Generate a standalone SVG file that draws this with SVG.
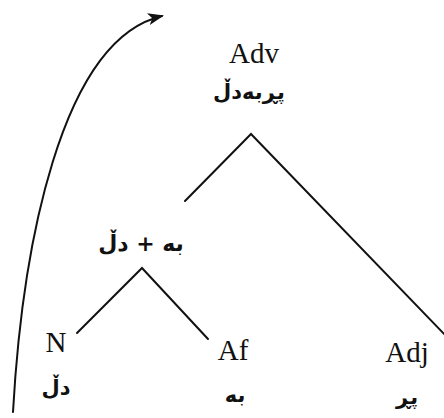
<svg xmlns="http://www.w3.org/2000/svg" width="444" height="418" viewBox="0 0 444 418">
<defs>
<marker id="ah" markerWidth="16" markerHeight="12" refX="14" refY="6" orient="auto" markerUnits="userSpaceOnUse">
<path d="M0,0 L16,6 L0,12 L4,6 Z" fill="#111"/>
</marker>
<style>
.lat{font-family:"Liberation Serif","Times New Roman",serif;font-size:29px;fill:#111;text-anchor:middle}
.ar{font-family:"DejaVu Sans","Noto Sans",sans-serif;font-weight:bold;font-size:21px;fill:#111;text-anchor:middle}
.ln{stroke:#111;stroke-width:2;fill:none;stroke-linecap:round}
</style>
</defs>
<rect width="444" height="418" fill="#fff"/>
<g id="connectors">
<path class="ln" d="M185,201 L251,134 L446,336"/>
<path class="ln" d="M77,333 L142,268 L208,339"/>
<path class="ln" d="M13,412 C22,250 60,40 162,16" marker-end="url(#ah)"/>
</g>
<g id="adv">
<text class="lat" x="254" y="63">Adv</text>
<text class="ar" x="249" y="99" direction="rtl">پڕبەدڵ</text>
</g>
<g id="compound">
<text class="ar" x="141" y="251" direction="rtl" style="font-size:22px">بە + دڵ</text>
</g>
<g id="n">
<text class="lat" x="56" y="352">N</text>
<text class="ar" x="56" y="395" direction="rtl">دڵ</text>
</g>
<g id="af">
<text class="lat" x="233" y="360">Af</text>
<text class="ar" x="235" y="402" direction="rtl">بە</text>
</g>
<g id="adj">
<text class="lat" x="407" y="362">Adj</text>
<text class="ar" x="407" y="404" direction="rtl">پڕ</text>
</g>
</svg>
